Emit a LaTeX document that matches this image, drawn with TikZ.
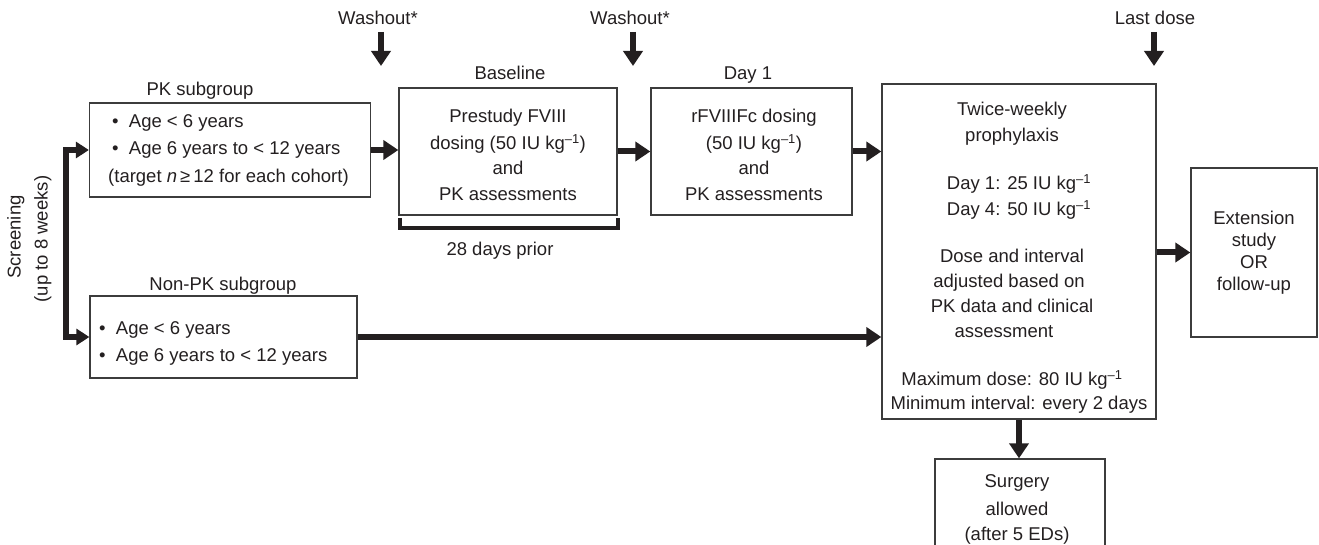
\documentclass[tikz,border=0pt]{standalone}
\usepackage{fontspec}
\setmainfont{Liberation Sans}
\usetikzlibrary{arrows.meta}
\definecolor{ink}{RGB}{35,31,32}
\definecolor{frame}{RGB}{60,60,60}
\begin{document}
\begin{tikzpicture}[x=1pt,y=-1pt,
  font=\fontsize{18.5}{22}\selectfont, text=ink,
  box/.style={draw=frame, line width=1.3pt, inner sep=0pt},
  txt/.style={inner sep=0pt, anchor=mid, yshift=-4pt},
  ltxt/.style={inner sep=0pt, anchor=mid west, yshift=-4pt},
  arr/.style={draw=ink, line width=6pt, -{Triangle[length=15pt,width=19pt]}},
  sarr/.style={draw=ink, line width=5.5pt, {Triangle[length=13pt,width=16pt]}-{Triangle[length=13pt,width=16pt]}, line join=miter},
  brk/.style={draw=ink, line width=3.5pt, line join=miter}]
\useasboundingbox (0,0) rectangle (1319,545);

% boxes
\node[box, minimum width=281pt, minimum height=94pt] (pk) at (230,150) {};
\node[box, minimum width=267pt, minimum height=82pt] (npk) at (223.5,337) {};
\node[box, minimum width=218pt, minimum height=127pt] (base) at (508,151.5) {};
\node[box, minimum width=201pt, minimum height=127pt] (day) at (751.5,151.5) {};
\node[box, minimum width=274pt, minimum height=335pt] (tw) at (1019,251.5) {};
\node[box, minimum width=126pt, minimum height=169pt] (ext) at (1254,252.5) {};
\node[box, minimum width=170pt, minimum height=100pt] (sur) at (1020,509) {};

% box titles
\node[txt] (tpk) at (200,89) {PK subgroup};
\node[txt] (tnpk) at (223,284) {Non-PK subgroup};
\node[txt] (tbase) at (510,73) {Baseline};
\node[txt] (tday) at (748,73) {Day 1};
\node[txt] (tdays) at (500,249) {28 days prior};

% top labels
\node[txt] (w1) at (378,18) {Washout*};
\node[txt] (w2) at (630,18) {Washout*};
\node[txt] (ld) at (1155,18) {Last dose};
\coordinate (w1a) at (381,32);
\coordinate (w1b) at (381,66);
\coordinate (w2a) at (633,32);
\coordinate (w2b) at (633,66);
\coordinate (lda) at (1154,32);
\coordinate (ldb) at (1154,66);
\draw[arr] (w1a) -- (w1b);
\draw[arr] (w2a) -- (w2b);
\draw[arr] (lda) -- (ldb);

% screening label
\node[inner sep=0pt, anchor=mid, rotate=90, xshift=-4pt] (scr1) at (18,233) {Screening};
\node[inner sep=0pt, anchor=mid, rotate=90, xshift=-4pt] (scr2) at (45,235) {(up to 8 weeks)};

% PK box text
\node[ltxt] (pk1) at (112,121) {\textbullet\ \ Age < 6 years};
\node[ltxt] (pk2) at (112,148) {\textbullet\ \ Age 6 years to < 12 years};
\node[ltxt] (pk3) at (108,176) {(target \textit{n}\,≥\,12 for each cohort)};

% Non-PK box text
\node[ltxt] (np1) at (99,328) {\textbullet\ \ Age < 6 years};
\node[ltxt] (np2) at (99,355) {\textbullet\ \ Age 6 years to < 12 years};

% Baseline text
\node[txt] (b1) at (508,116) {Prestudy FVIII};
\node[txt] (b2) at (508,143) {dosing (50 IU kg\textsuperscript{–1})};
\node[txt] (b3) at (508,168) {and};
\node[txt] (b4) at (508,194) {PK assessments};

% Day 1 text
\node[txt] (d1) at (754,116) {rFVIIIFc dosing};
\node[txt] (d2) at (754,143) {(50 IU kg\textsuperscript{–1})};
\node[txt] (d3) at (754,168) {and};
\node[txt] (d4) at (754,194) {PK assessments};

% Twice-weekly text
\node[txt] (t1) at (1012,109) {Twice-weekly};
\node[txt] (t2) at (1012,135) {prophylaxis};
\node[txt] (t3) at (1019,183) {Day 1: 25 IU kg\textsuperscript{–1}};
\node[txt] (t4) at (1019,209) {Day 4: 50 IU kg\textsuperscript{–1}};
\node[txt] (t5) at (1012,256) {Dose and interval};
\node[txt] (t6) at (1009,281) {adjusted based on};
\node[txt] (t7) at (1012,306) {PK data and clinical};
\node[txt] (t8) at (1004,331) {assessment};
\node[txt] (t9) at (1012,379) {Maximum dose: 80 IU kg\textsuperscript{–1}};
\node[txt] (t10) at (1019,403) {Minimum interval: every 2 days};

% Extension text
\node[txt] (e1) at (1254,218) {Extension};
\node[txt] (e2) at (1254,240) {study};
\node[txt] (e3) at (1254,262) {OR};
\node[txt] (e4) at (1254,284) {follow-up};

% Surgery text
\node[txt] (s1) at (1017,481) {Surgery};
\node[txt] (s2) at (1017,509) {allowed};
\node[txt] (s3) at (1017,534) {(after 5 EDs)};

% bracket
\coordinate (bk1) at (400,218);
\coordinate (bk2) at (400,228);
\coordinate (bk3) at (618,228);
\coordinate (bk4) at (618,218);
\draw[brk] (bk1) -- (bk2) -- (bk3) -- (bk4);

% connectors
\coordinate (sa) at (66,150);
\coordinate (sb) at (66,337);
\draw[sarr] (pk.west) -- (sa) -- (sb) -- (npk.west);
\draw[arr] (pk.east) -- (pk.east -| base.west);
\draw[arr] (base.east) -- (day.west);
\draw[arr] (day.east) -- (day.east -| tw.west);
\draw[arr] (npk.east) -- (npk.east -| tw.west);
\draw[arr] (tw.east |- ext.west) -- (ext.west);
\draw[arr] (tw.south) -- (tw.south |- sur.north);
\end{tikzpicture}
\end{document}
